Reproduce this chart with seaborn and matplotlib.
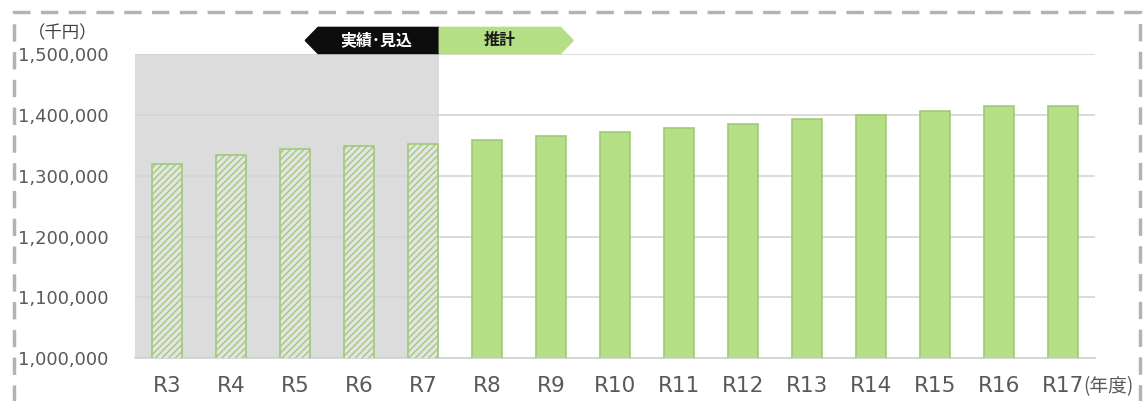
import numpy as np
import pandas as pd
import matplotlib
matplotlib.use("Agg")
import matplotlib.pyplot as plt
import seaborn as sns
from matplotlib.patches import Polygon, Rectangle

# データ
years = ["R3", "R4", "R5", "R6", "R7", "R8", "R9", "R10", "R11", "R12",
         "R13", "R14", "R15", "R16", "R17"]
values = [1319000, 1334000, 1344000, 1349000, 1352000, 1359000, 1365000,
          1372000, 1379000, 1385000, 1393000, 1400000, 1406000, 1415000, 1414000]
n_actual = 5  # 実績・見込 (R3-R7)
label_actual = "実績･見込"
label_est = "推計"
unit_y = "（千円）"
unit_x = "(年度)"

sns.set_theme(style="white")
plt.rcParams["font.family"] = ["Noto Sans CJK JP", "DejaVu Sans"]
plt.rcParams["hatch.linewidth"] = 1.0

df = pd.DataFrame({"year": years, "value": values})

fig = plt.figure(figsize=(11.45, 4.01), dpi=100)
ax = fig.add_axes([0.118, 0.107, 0.838, 0.758])

green = "#b5df84"
edge = "#9fcb78"
sns.barplot(data=df, x="year", y="value", color=green, width=0.47,
            saturation=1, ax=ax, zorder=3)

for i, p in enumerate(ax.patches):
    p.set_edgecolor(edge)
    p.set_linewidth(1.2)
    if i < n_actual:
        p.set_facecolor("#e4e4e4")
        p.set_hatch("/////")

# 実績期間の背景
bw = ax.patches[n_actual - 1].get_width()
ax.axvspan(-0.5, n_actual - 1 + bw / 2 + 0.02, color="#dcdcdc", zorder=0, lw=0)

ax.set_xlim(-0.5, len(years) - 0.5)
ax.set_ylim(1000000, 1500000)
ax.set_yticks(np.arange(1000000, 1500001, 100000))
ax.yaxis.set_major_formatter(matplotlib.ticker.FuncFormatter(lambda v, _: f"{int(v):,}"))
ax.grid(axis="y", color="#d4d4d4", lw=1.2, zorder=1)
ax.set_axisbelow(True)
for s in ["top", "right", "left"]:
    ax.spines[s].set_visible(False)
ax.spines["bottom"].set_color("#d0d0d0")
ax.spines["bottom"].set_linewidth(1.2)
ax.set_xlabel("")
ax.set_ylabel("")
ax.tick_params(axis="y", length=0, labelsize=13, labelcolor="#595959", pad=19)
ax.tick_params(axis="x", length=0, labelsize=15.5, labelcolor="#595959", pad=13)
for t in ax.get_yticklabels() + ax.get_xticklabels():
    t.set_fontfamily(["DejaVu Sans"])

# 見出しの矢印ボックス
y0, y1 = 1501000, 1544000
ym = (y0 + y1) / 2
xs = n_actual - 1 + bw / 2 + 0.02
blk = Polygon([(2.16, ym), (2.36, y1), (xs, y1), (xs, y0), (2.36, y0)],
              closed=True, color="#0d0d0d", clip_on=False, zorder=5)
grn = Polygon([(xs, y1), (6.15, y1), (6.35, ym), (6.15, y0), (xs, y0)],
              closed=True, color=green, clip_on=False, zorder=5)
ax.add_patch(blk)
ax.add_patch(grn)
ax.text((2.3 + xs) / 2, ym, label_actual, color="white", fontsize=11.5,
        fontweight="bold", ha="center", va="center", zorder=6)
ax.text((xs + 6.15) / 2, ym, label_est, color="#1a1a1a", fontsize=11.5,
        fontweight="bold", ha="center", va="center", zorder=6)

fig.text(0.024, 0.918, unit_y, fontsize=12.5, color="#404040", ha="left", va="center")
fig.text(0.946, 0.035, unit_x, fontsize=13.5, color="#595959", ha="left", va="center")

# 点線の枠
fig.patches.append(Rectangle((14 / 1145, -0.05), 1126 / 1145, 1 - 12 / 401 + 0.05,
                             transform=fig.transFigure, fill=False,
                             edgecolor="#b3b3b3", lw=2.5, linestyle=(0, (5, 3))))

fig.savefig("out.png", dpi=100)
